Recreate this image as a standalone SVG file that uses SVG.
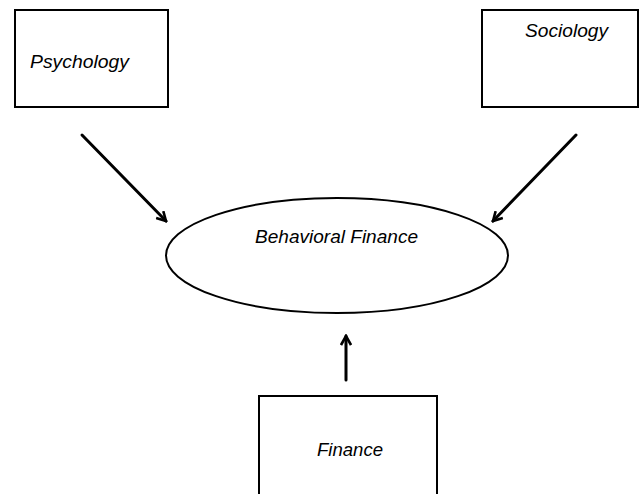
<svg xmlns="http://www.w3.org/2000/svg" width="640" height="494" viewBox="0 0 640 494">
  <style>
    .box { fill: #ffffff; stroke: #000000; stroke-width: 2; }
    .label { font-family: "Liberation Sans", Arial, sans-serif; font-style: italic; font-size: 18.5px; fill: #000000; }
    .conn { stroke: #000000; stroke-width: 3; fill: none; stroke-linecap: round; }
  </style>
  <defs>
    <marker id="head" viewBox="0 0 12 12" refX="10" refY="6" markerWidth="12" markerHeight="12" markerUnits="userSpaceOnUse" orient="auto">
      <path d="M1,1 L10,6 L1,11" fill="none" stroke="#000000" stroke-width="2.6" stroke-linejoin="miter"/>
    </marker>
  </defs>
  <rect width="640" height="494" fill="#ffffff"/>

  <g id="psychology">
    <rect class="box" x="15" y="10" width="153" height="97"/>
    <text class="label" x="30" y="68" textLength="99" lengthAdjust="spacingAndGlyphs">Psychology</text>
  </g>

  <g id="sociology">
    <rect class="box" x="482" y="10" width="156" height="97"/>
    <text class="label" x="525" y="37" textLength="83" lengthAdjust="spacingAndGlyphs">Sociology</text>
  </g>

  <g id="behavioral-finance">
    <ellipse class="box" cx="337" cy="255.5" rx="171" ry="57.5" stroke-width="1.5"/>
    <text class="label" x="255" y="243" textLength="163" lengthAdjust="spacingAndGlyphs">Behavioral Finance</text>
  </g>

  <g id="finance">
    <rect class="box" x="259" y="396" width="178" height="110"/>
    <text class="label" x="317" y="456" textLength="66" lengthAdjust="spacingAndGlyphs">Finance</text>
  </g>

  <g id="connectors">
    <line class="conn" x1="82" y1="135" x2="166" y2="221" marker-end="url(#head)"/>
    <line class="conn" x1="576" y1="135" x2="493" y2="221" marker-end="url(#head)"/>
    <line class="conn" x1="346" y1="380" x2="346" y2="336" marker-end="url(#head)"/>
  </g>
</svg>
